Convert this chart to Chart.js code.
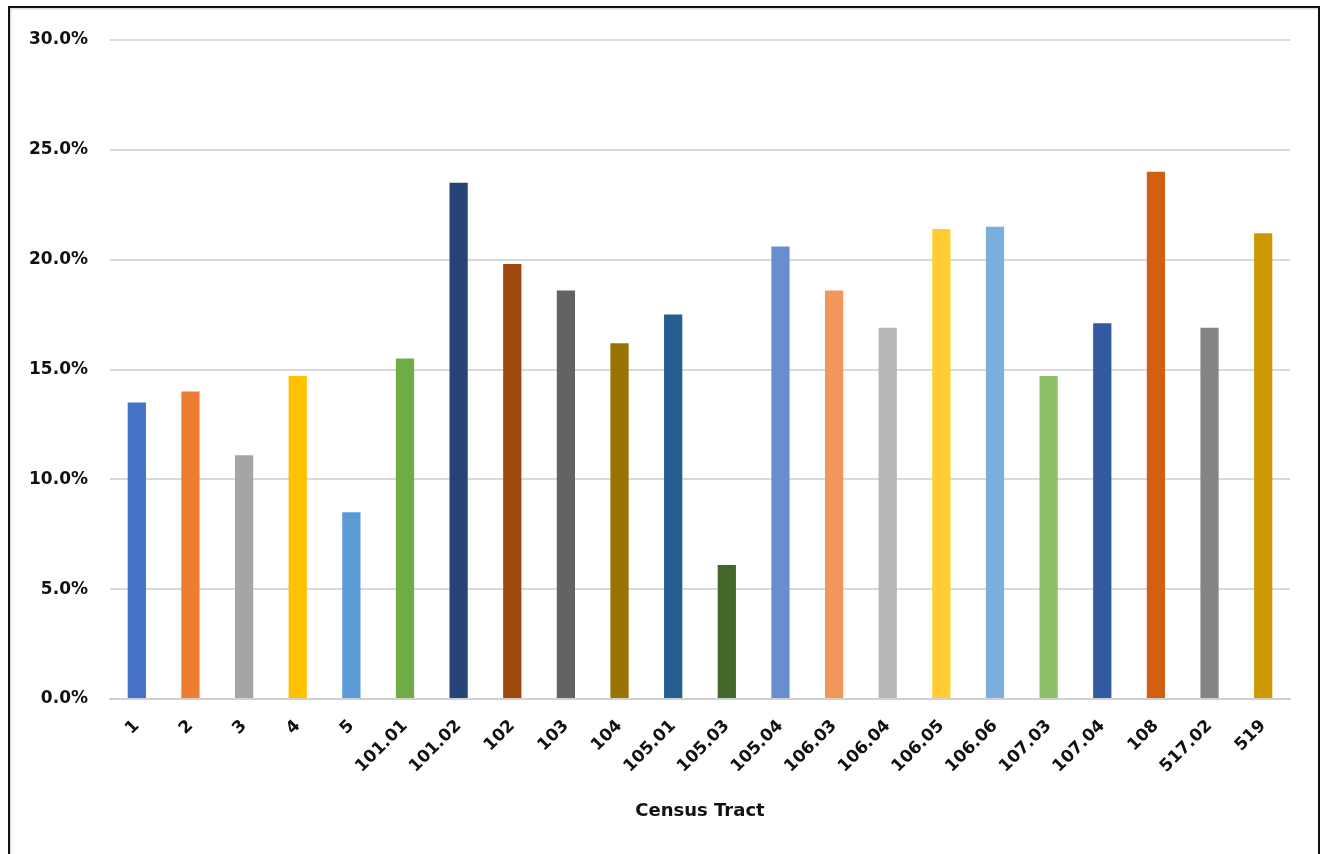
<!DOCTYPE html>
<html>
<head>
<meta charset="utf-8">
<script src="https://cdn.jsdelivr.net/npm/chart.js@4"></script>
<style>
  html, body { margin: 0; padding: 0; background: #ffffff; overflow: hidden; }
  #wrap { position: relative; width: 1324px; height: 854px; }
  #frame {
    position: absolute; left: 8px; top: 6px; width: 1312px; height: 900px;
    border: 2px solid #111111; box-sizing: border-box;
    box-shadow: inset 1px 1px 2px #cfcfcf;
  }
  canvas { position: absolute; left: 0; top: 0; }
</style>
</head>
<body>
<div id="wrap">
  <div id="frame"></div>
  <canvas id="chart" width="1324" height="854"></canvas>
</div>
<script>
// Census tracts along the x axis
const tracts = ['1', '2', '3', '4', '5', '101.01', '101.02', '102', '103', '104', '105.01',
  '105.03', '105.04', '106.03', '106.04', '106.05', '106.06', '107.03', '107.04', '108',
  '517.02', '519'];

// Share per tract, in percent
const shares = [13.5, 14.0, 11.1, 14.7, 8.5, 15.5, 23.5, 19.8, 18.6, 16.2, 17.5,
  6.1, 20.6, 18.6, 16.9, 21.4, 21.5, 14.7, 17.1, 24.0, 16.9, 21.2];

// One fill per bar
const barColors = ['#4472C4', '#ED7D31', '#A5A5A5', '#FFC000', '#5B9BD5', '#70AD47',
  '#264478', '#9E480E', '#636363', '#997300', '#255E91', '#43682B', '#698ED0',
  '#F1975A', '#B7B7B7', '#FFCD33', '#7CAFDD', '#8CC168', '#335AA1', '#D26012',
  '#848484', '#CC9A00'];

// Value axis ticks
const yTicks = [0, 5, 10, 15, 20, 25, 30];

const fontFamily = '"DejaVu Sans", sans-serif';

new Chart(document.getElementById('chart'), {
  type: 'bar',
  data: {
    labels: tracts,
    datasets: [{
      data: shares,
      backgroundColor: barColors,
      borderWidth: 0,
      barPercentage: 0.34,
      categoryPercentage: 1.0
    }]
  },
  options: {
    responsive: false,
    animation: false,
    events: [],
    layout: { padding: { left: 0, right: 34, top: 40, bottom: 32 } },
    plugins: { legend: { display: false }, tooltip: { enabled: false } },
    scales: {
      x: {
        grid: { display: false, drawTicks: false },
        border: { display: true, color: '#d0d0d0', width: 2 },
        ticks: {
          color: '#111111',
          font: { family: fontFamily, size: 17, weight: 'bold' },
          minRotation: 45, maxRotation: 45,
          autoSkip: false,
          padding: 17
        },
        title: {
          display: true,
          text: 'Census Tract',
          color: '#111111',
          font: { family: fontFamily, size: 18, weight: 'bold' },
          padding: { top: 0, bottom: 0 }
        },
        afterFit(scale) { scale.height = 854 - 699 - 32; }
      },
      y: {
        min: 0, max: 30,
        afterBuildTicks(scale) { scale.ticks = yTicks.map(v => ({ value: v })); },
        grid: { color: '#d9d9d9', lineWidth: 2, drawTicks: false },
        border: { display: false },
        ticks: {
          color: '#111111',
          font: { family: fontFamily, size: 17, weight: 'bold' },
          padding: 22,
          callback: v => v.toFixed(1) + '%'
        },
        afterFit(scale) { scale.width = 110; }
      }
    }
  }
});
</script>
</body>
</html>
